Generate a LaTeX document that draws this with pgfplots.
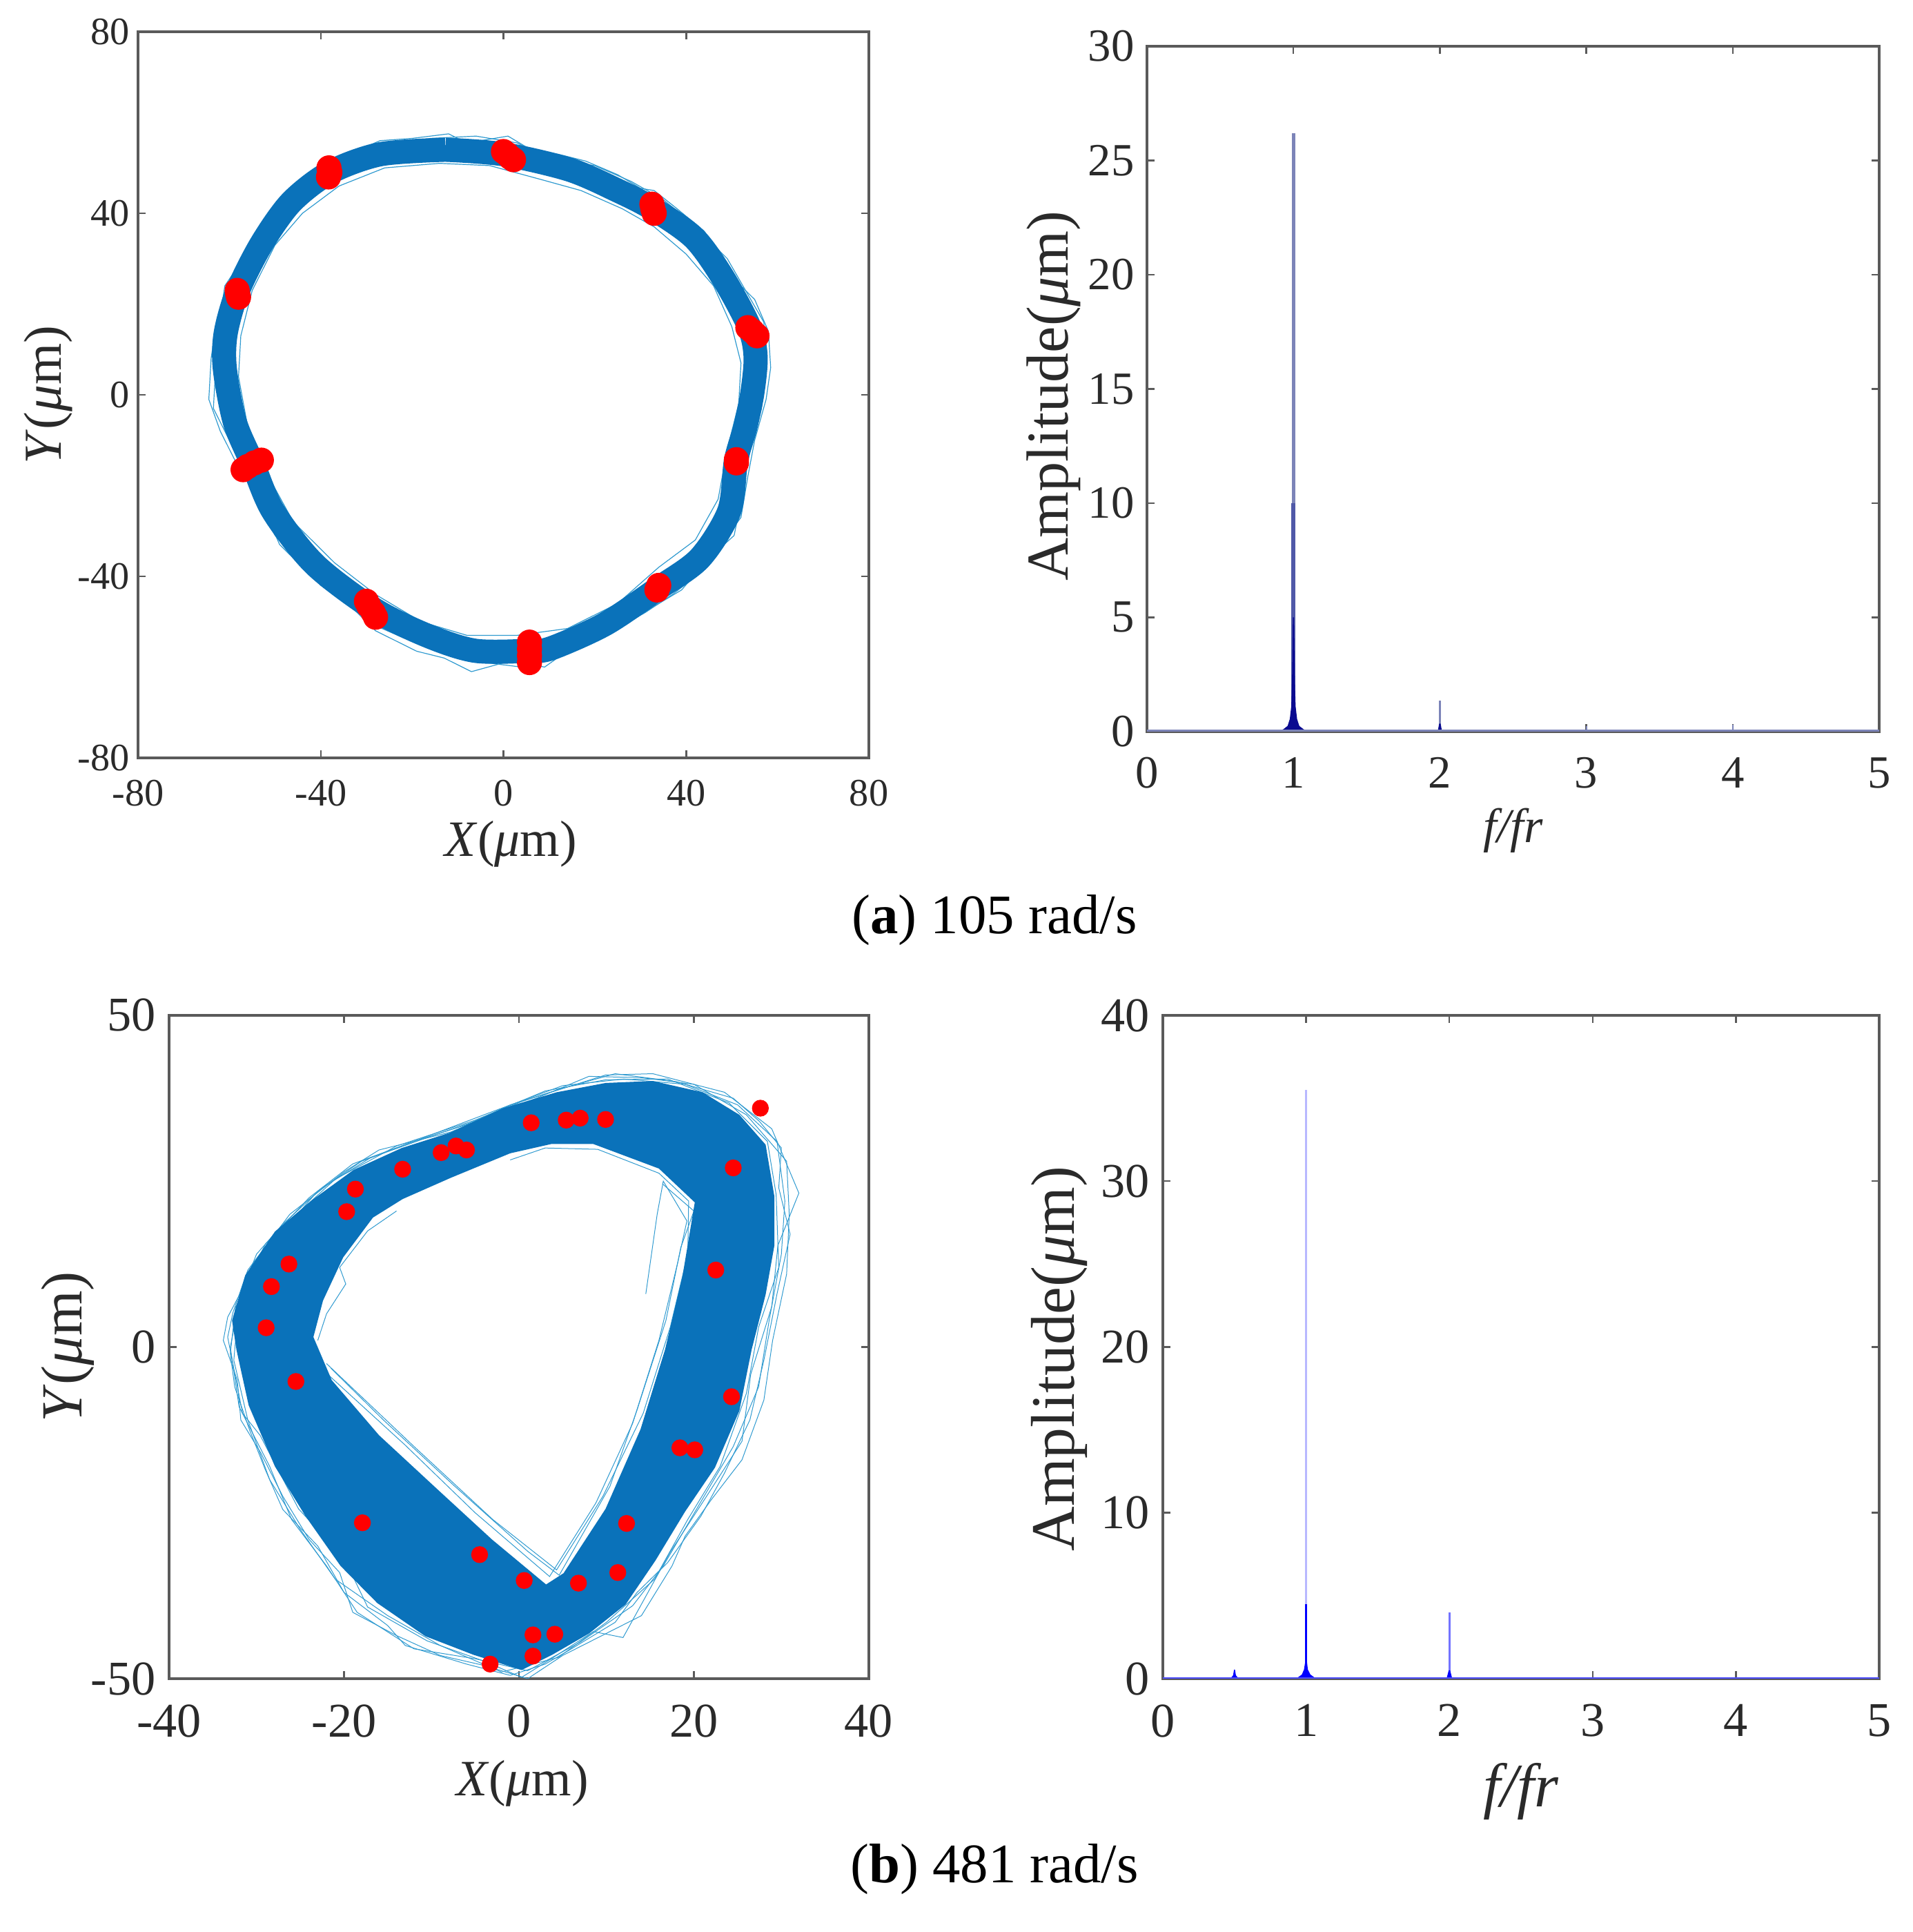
\documentclass[border=0pt]{standalone}
\usepackage{fontspec}
\setmainfont{Liberation Serif}
\usepackage{pgfplots}
\pgfplotsset{compat=1.18}
\definecolor{band}{HTML}{0A72BA}
\definecolor{orbitline}{HTML}{2F9AD0}
\definecolor{axgray}{HTML}{5A5A5A}
\definecolor{txt}{HTML}{2A2A2A}
\definecolor{navy}{HTML}{0A0A90}
\definecolor{navylt}{HTML}{7C84B8}
\definecolor{navymid}{HTML}{5059A8}
\definecolor{bluelt}{HTML}{B8B8FF}
\newcommand{\fs}[1]{\fontsize{#1}{#1}\selectfont}
\pgfplotsset{
 panel/.style={
  scale only axis, anchor=south west,
  axis line style={draw=axgray,line width=0.35mm},
  tick style={draw=axgray,line width=0.25mm},
  major tick length=1.1mm,
  tick align=inside,
  /pgf/number format/assume math mode=true,
  tick label style={text=txt},
  label style={text=txt},
  clip=true,
 },
}
\begin{document}
\begin{tikzpicture}[x=1mm,y=1mm]
\path[use as bounding box] (0,0) rectangle (277.1,279.9);

% (a) orbit, 105 rad/s
\begin{axis}[panel,
 at={(20.0mm,170.1mm)}, width=105.9mm, height=105.2mm,
 xmin=-80,xmax=80,ymin=-80,ymax=80,
 xtick={-80,-40,0,40,80}, ytick={-80,-40,0,40,80},
 tick label style={font=\fs{16}},
 xticklabel style={yshift=-2mm},
 xlabel={\fs{21}\textit{X}(\textit{μ}m)},
 ylabel={\fs{22}\textit{Y}(\textit{μ}m)},
 xlabel style={at={(axis description cs:0.51,-0.119)},anchor=center},
 ylabel style={at={(axis description cs:-0.123,0.5)},anchor=center},
]
\addplot[orbitline,line width=0.12mm] coordinates {(-12,57.5) (-8,55.5) (-2,56.5) (1,57) (6,54) (12,53) (18,51.5) (25,48.5) (30,45.5) (33,45) (38,41) (44,36) (47,31) (51,25) (55,21) (58,14) (58.5,6) (57.5,-1) (55,-10) (53.5,-18) (52,-27) (47,-34) (44,-38.5) (37,-44) (31,-48) (24,-52) (16,-55) (9,-60) (2,-58.5) (-7,-61) (-13,-58) (-19,-56.5) (-28,-52) (-33,-47) (-40,-42) (-46,-35) (-50,-31) (-55,-21) (-59,-14) (-62,-8) (-64.5,-1) (-64,8) (-63,15) (-60,21) (-57,27) (-53,36) (-47,45) (-41,50) (-34,53) (-27,56) (-20,56.5) (-12,57.5)};
\addplot[orbitline,line width=0.12mm] coordinates {(-16,56.5) (-6,57) (3,55.5) (10,52) (20,50.5) (28,47) (35,43) (41,38) (49,30) (53,23) (57,16) (57.5,9) (56.5,-3) (54,-12) (52.5,-21) (50.5,-31) (45,-36) (39,-43) (29,-49) (20,-53) (12,-58) (4,-60) (-4,-59) (-11,-57) (-22,-53.5) (-30,-50) (-36,-44) (-44,-38) (-49,-33) (-53,-24) (-57,-17) (-60,-10) (-63.5,-3) (-63,6) (-62.5,14) (-61,24) (-55,33) (-50,41) (-43,48) (-36,52) (-28,54.5) (-16,56.5)};
\addplot[orbitline,line width=0.12mm] coordinates {(-14,51) (-3,50.5) (8,47.5) (17,45) (26,41) (33,37) (40,31) (46,24) (50,15) (52,7) (51.5,-2) (49,-12) (47,-23) (42,-32) (34,-38) (25,-46) (14,-51.5) (3,-53) (-8,-53) (-18,-50) (-28,-44) (-37,-37) (-46,-28) (-52,-17) (-56,-7) (-58,4) (-57.5,13) (-55,23) (-50,33) (-44,40) (-36,46) (-26,50) (-14,51)};
\addplot[band,line width=3.5mm,line join=round,smooth,tension=0.5] coordinates {(-12.7,54) (0,53) (14.5,49.6) (25,45) (32.7,41) (41.8,34.5) (48.3,25.4) (53.8,15) (55.2,8.4) (54.5,0.5) (52.9,-7.3) (50.9,-14.5) (49.4,-25.7) (43,-36) (33.8,-42.7) (22.3,-50.5) (10.6,-55.8) (5.8,-56.4) (-6.2,-56.4) (-16.6,-53.1) (-28.3,-47.3) (-41.3,-37.4) (-50.4,-25.7) (-54.9,-15.2) (-58.8,-6) (-61,5.8) (-60.8,13.6) (-58.2,22.8) (-53,33.2) (-46.5,42.4) (-38,49) (-27,53) (-12.7,54)};
\addplot[only marks,mark=*,red,mark size=1.75mm,mark options={draw=none,fill=red}] coordinates {
 (0,53.6) (0.8,53) (1.5,52.3) (2.2,51.8)
 (-38.2,50) (-38,49) (-38.3,48)
 (32.5,42) (32.7,41) (33,40)
 (-58.3,23) (-58.2,22.3) (-58,21.5)
 (53.5,14.8) (54.5,14) (55.5,13)
 (51,-14.3) (51,-15)
 (-57,-16.5) (-56,-15.8) (-54.5,-15) (-53,-14.4)
 (34,-42) (33.6,-43)
 (-30,-45.5) (-29.5,-46.5) (-28.5,-48) (-28,-49)
 (5.7,-54.5) (5.7,-56) (5.7,-57.5) (5.7,-59)};
\end{axis}

% (a) spectrum
\begin{axis}[panel,
 at={(166.2mm,173.9mm)}, width=106.1mm, height=99.3mm,
 xmin=0,xmax=5,ymin=0,ymax=30,
 xtick={0,1,2,3,4,5}, ytick={0,5,10,15,20,25,30},
 tick label style={font=\fs{19}},
 xticklabel style={yshift=-2.5mm},
 yticklabel style={xshift=-0.6mm},
 xlabel={\fs{20}\textit{f/fr}},
 ylabel={\fs{24.5}Amplitude(\textit{μ}m)},
 xlabel style={at={(axis description cs:0.5,-0.144)},anchor=center},
 ylabel style={at={(axis description cs:-0.127,0.49)},anchor=center},
]
\addplot[navylt,line width=0.5mm] coordinates {(1,0) (1,26.2)};
\addplot[navymid,line width=0.55mm] coordinates {(1,0) (1,10)};
\addplot[navylt,line width=0.3mm] coordinates {(2,0) (2,1.35)};
\addplot[navylt,line width=0.2mm] coordinates {(3,0) (3,0.25)};
\addplot[navylt,line width=0.2mm] coordinates {(4,0) (4,0.3)};
\addplot[fill=navy,draw=none] coordinates {(0.87,0) (0.93,0.1) (0.96,0.25) (0.975,0.55) (0.985,1.1) (0.99,2.2) (0.996,5) (1.004,5) (1.01,2.2) (1.015,1.1) (1.025,0.55) (1.04,0.25) (1.07,0.1) (1.13,0)};
\addplot[fill=navy,draw=none] coordinates {(1.985,0) (1.995,0.35) (2.005,0.35) (2.015,0)};
\addplot[navylt,line width=0.45mm] coordinates {(0,0.03) (5,0.03)};
\end{axis}
\node[font=\fs{23},text=black] at (144.1,146.6) {(\textbf{a}) 105 rad/s};

% (b) orbit, 481 rad/s
\begin{axis}[panel,
 at={(24.5mm,36.7mm)}, width=101.4mm, height=96.1mm,
 xmin=-40,xmax=40,ymin=-50,ymax=50,
 xtick={-40,-20,0,20,40}, ytick={-50,0,50},
 tick label style={font=\fs{20}},
 xticklabel style={yshift=-2.5mm},
 yticklabel style={xshift=-0.7mm},
 xlabel={\fs{21}\textit{X}(\textit{μ}m)},
 ylabel={\fs{24}\textit{Y}(\textit{μ}m)},
 xlabel style={at={(axis description cs:0.505,-0.158)},anchor=center},
 ylabel style={at={(axis description cs:-0.145,0.5)},anchor=center},
]
\addplot[orbitline,line width=0.1mm] coordinates {(15.3,41.2) (23.5,38.4) (28.9,32.9) (32,23.2) (29.6,15.3) (28.9,6.1) (26.5,-4.1) (25.5,-14.2) (21.4,-22.6) (17.3,-30.9) (11.9,-43.8) (8.5,-42.9) (3.7,-47) (0.3,-49.8) (-3.7,-47.5) (-10.5,-44.3) (-17.3,-39.2) (-20,-31.8) (-25.2,-24.4) (-29.6,-13.3) (-31.6,-10) (-33.3,1.5) (-32.7,5.2) (-31,11.6) (-26.2,20) (-20,26.4) (-16,29.7) (-7.8,32.4) (0.3,37) (9.9,41) (15.3,41.2)};
\addplot[orbitline,line width=0.1mm] coordinates {(12,40.4) (19,39.6) (25,36.5) (29.5,31) (30.4,22) (30,14) (28.6,4) (27.4,-6) (24.5,-15) (20.5,-24) (16.5,-33) (13,-39) (7,-44.5) (1,-48.8) (-5,-47) (-12,-45.5) (-18.5,-40) (-22,-33) (-26,-26) (-28.5,-18) (-32,-9) (-33,0) (-31.8,8) (-29,15.5) (-24,22.5) (-19,27.6) (-11,31.5) (-3,35.5) (5,39.4) (12,40.4)};
\addplot[orbitline,line width=0.1mm] coordinates {(17,40.4) (24,36.8) (28.4,31) (29.4,23) (29.7,12) (27.4,3) (26,-7) (23,-18) (19.3,-26) (15.5,-35) (10,-41.5) (4.5,-46.8) (-2,-49) (-9,-45) (-15,-40.5) (-21,-35) (-25,-27.5) (-28.5,-20) (-31,-11) (-32.6,-2) (-32,7) (-29,14) (-25,20.5) (-21,25.3) (-14,30.3) (-5,34.2) (3,38.6) (10,40.3) (17,40.4)};
\addplot[orbitline,line width=0.1mm] coordinates {(2,37.5) (8,40.8) (14,40.6) (20,39.6) (26,35) (30.6,28) (30.9,20) (30.6,11) (29,1) (28,-8) (25.5,-17) (22,-23) (19,-28.5) (17.5,-33) (14,-40.5) (9.5,-43.5) (5,-46.5) (1,-50) (-4,-48) (-9,-46.5) (-14,-43.5) (-19,-40) (-20.5,-34) (-24,-29) (-27,-22.5) (-29.5,-16) (-31.8,-11) (-32.2,-5) (-33.8,1) (-33.3,4.5) (-31.5,9) (-30,14) (-27,18.5) (-22.5,24) (-17,28.5) (-10,31.8) (-4,34.5) (2,37.5)};
\addplot[orbitline,line width=0.1mm] coordinates {(5,39) (11,41.2) (18,40) (24.5,37.5) (27.5,34) (30,30) (29.7,24) (31,17) (29.5,8) (28,-2) (26.4,-11) (23.5,-19) (20.8,-25.5) (17,-32.5) (13.5,-37) (11,-41.5) (6,-45.5) (3,-47.8) (-1,-49.5) (-6,-47.8) (-13,-45) (-15,-42) (-20,-37) (-23,-30) (-27,-24.5) (-29,-18.5) (-30.8,-12.5) (-32.5,-6) (-33,-1) (-32.4,6) (-30,12.5) (-28,16) (-23,23.5) (-18,28) (-12,31) (-6,33.5) (-1,36.5) (5,39)};
\addplot[orbitline,line width=0.1mm] coordinates {(-22,-2.5) (-12,-15) (-3,-26) (4.3,-33.6) (9.6,-22.5) (14.2,-10) (17.3,3) (19.3,14) (19.4,22) (16,26.2) (9,29.8) (3,30) (-1,28.2)};
\addplot[orbitline,line width=0.1mm] coordinates {(-21.8,-4.2) (-13,-14.8) (-5,-25) (3.5,-34.6) (8.8,-23.5) (13,-11.5) (16,1) (18.2,13) (19.2,19) (16.5,25) (15.8,20) (14.5,8)};
\addplot[orbitline,line width=0.1mm] coordinates {(-23,1) (-22,5) (-19.8,9.5) (-20.5,12) (-17.3,17.5) (-14,20.5)};
\addplot[orbitline,line width=0.1mm] coordinates {(-21.5,-3.2) (-15.5,-11) (-7.5,-20.8) (1,-30.8) (4.6,-34.4) (10.4,-21) (13.5,-9.5) (16.8,4) (18.5,15) (20,20.5) (16.4,24.6)};
\addplot[fill=band,draw=none,even odd rule] coordinates {(9.9,39.8) (15.3,40.1) (21,38.4) (25.2,35) (28.2,30.5) (29.2,22.7) (29.2,15.3) (28.2,7.9) (26.6,-0.4) (25.2,-9.6) (22.4,-18.2) (19,-24.8) (15.6,-32.2) (12.2,-38.8) (8,-43.2) (3.8,-46.4) (0.3,-48.7) (-5.2,-46.4) (-10.7,-43.6) (-16.2,-38.6) (-20.4,-33) (-24.4,-25.5) (-27.9,-18) (-30.9,-8.8) (-32.3,-0.4) (-32.8,4) (-31.3,10.8) (-27.9,17.4) (-23.7,22.1) (-18.9,26.7) (-13.4,30) (-7.9,32.3) (-1.8,36) (4.3,38.4) (9.9,39.8)
 (20.1,21.8) (16,26.9) (8.5,30.6) (3.7,30.6) (-1,29.2) (-7.8,25.5) (-13.3,22.3) (-16.7,19.5) (-20.1,13.5) (-22.4,7) (-23.5,1.5) (-21.4,-5) (-16,-13.3) (-9.2,-21.6) (-3.1,-29) (3.1,-35.8) (5.1,-34.1) (9.9,-24.4) (13.9,-12.4) (16.7,-0.4) (18.7,10.7) (20.1,21.8) (9.9,39.8)};
\addplot[only marks,mark=*,red,mark size=1.15mm,mark options={draw=none,fill=red}] coordinates {(27.6,36) (24.5,27) (22.5,11.6) (24.3,-7.5) (18.4,-15.2) (20.1,-15.5) (12.3,-26.6) (11.3,-34) (6.8,-35.6) (0.6,-35.2) (-4.5,-31.3) (-17.9,-26.5) (-25.5,-5.2) (-28.9,2.9) (-28.3,9.1) (-26.3,12.5) (-19.7,20.4) (-18.7,23.8) (-13.3,26.8) (-8.9,29.3) (-7.2,30.3) (-6,29.7) (1.4,33.8) (5.4,34.2) (7,34.5) (9.9,34.3) (1.6,-43.4) (4.1,-43.3) (1.6,-46.6) (-3.3,-47.8)};
\end{axis}

% (b) spectrum
\begin{axis}[panel,
 at={(168.5mm,36.7mm)}, width=103.8mm, height=96.1mm,
 xmin=0,xmax=5,ymin=0,ymax=40,
 xtick={0,1,2,3,4,5}, ytick={0,10,20,30,40},
 tick label style={font=\fs{20}},
 xticklabel style={yshift=-2.5mm},
 yticklabel style={xshift=-0.7mm},
 xlabel={\fs{25.5}\textit{f/fr}},
 ylabel={\fs{25.5}Amplitude(\textit{μ}m)},
 xlabel style={at={(axis description cs:0.5,-0.17)},anchor=center},
 ylabel style={at={(axis description cs:-0.145,0.482)},anchor=center},
]
\addplot[bluelt,line width=0.3mm] coordinates {(1,0) (1,35.5)};
\addplot[blue!55,line width=0.3mm] coordinates {(2,0) (2,4)};
\addplot[blue,line width=0.3mm] coordinates {(1,0) (1,4.5)};
\addplot[fill=blue,draw=none] coordinates {(0.93,0) (0.97,0.25) (0.985,0.55) (0.995,1.1) (1.005,1.1) (1.012,0.55) (1.03,0.25) (1.07,0)};
\addplot[fill=blue,draw=none] coordinates {(0.47,0) (0.49,0.2) (0.497,0.55) (0.503,0.55) (0.51,0.2) (0.53,0)};
\addplot[fill=blue,draw=none] coordinates {(1.98,0) (1.995,0.5) (2.005,0.5) (2.02,0)};
\addplot[blue!70,line width=0.3mm] coordinates {(0,0.03) (5,0.03)};
\end{axis}
\node[font=\fs{23},text=black] at (144.1,9.1) {(\textbf{b}) 481 rad/s};
\end{tikzpicture}
\end{document}
